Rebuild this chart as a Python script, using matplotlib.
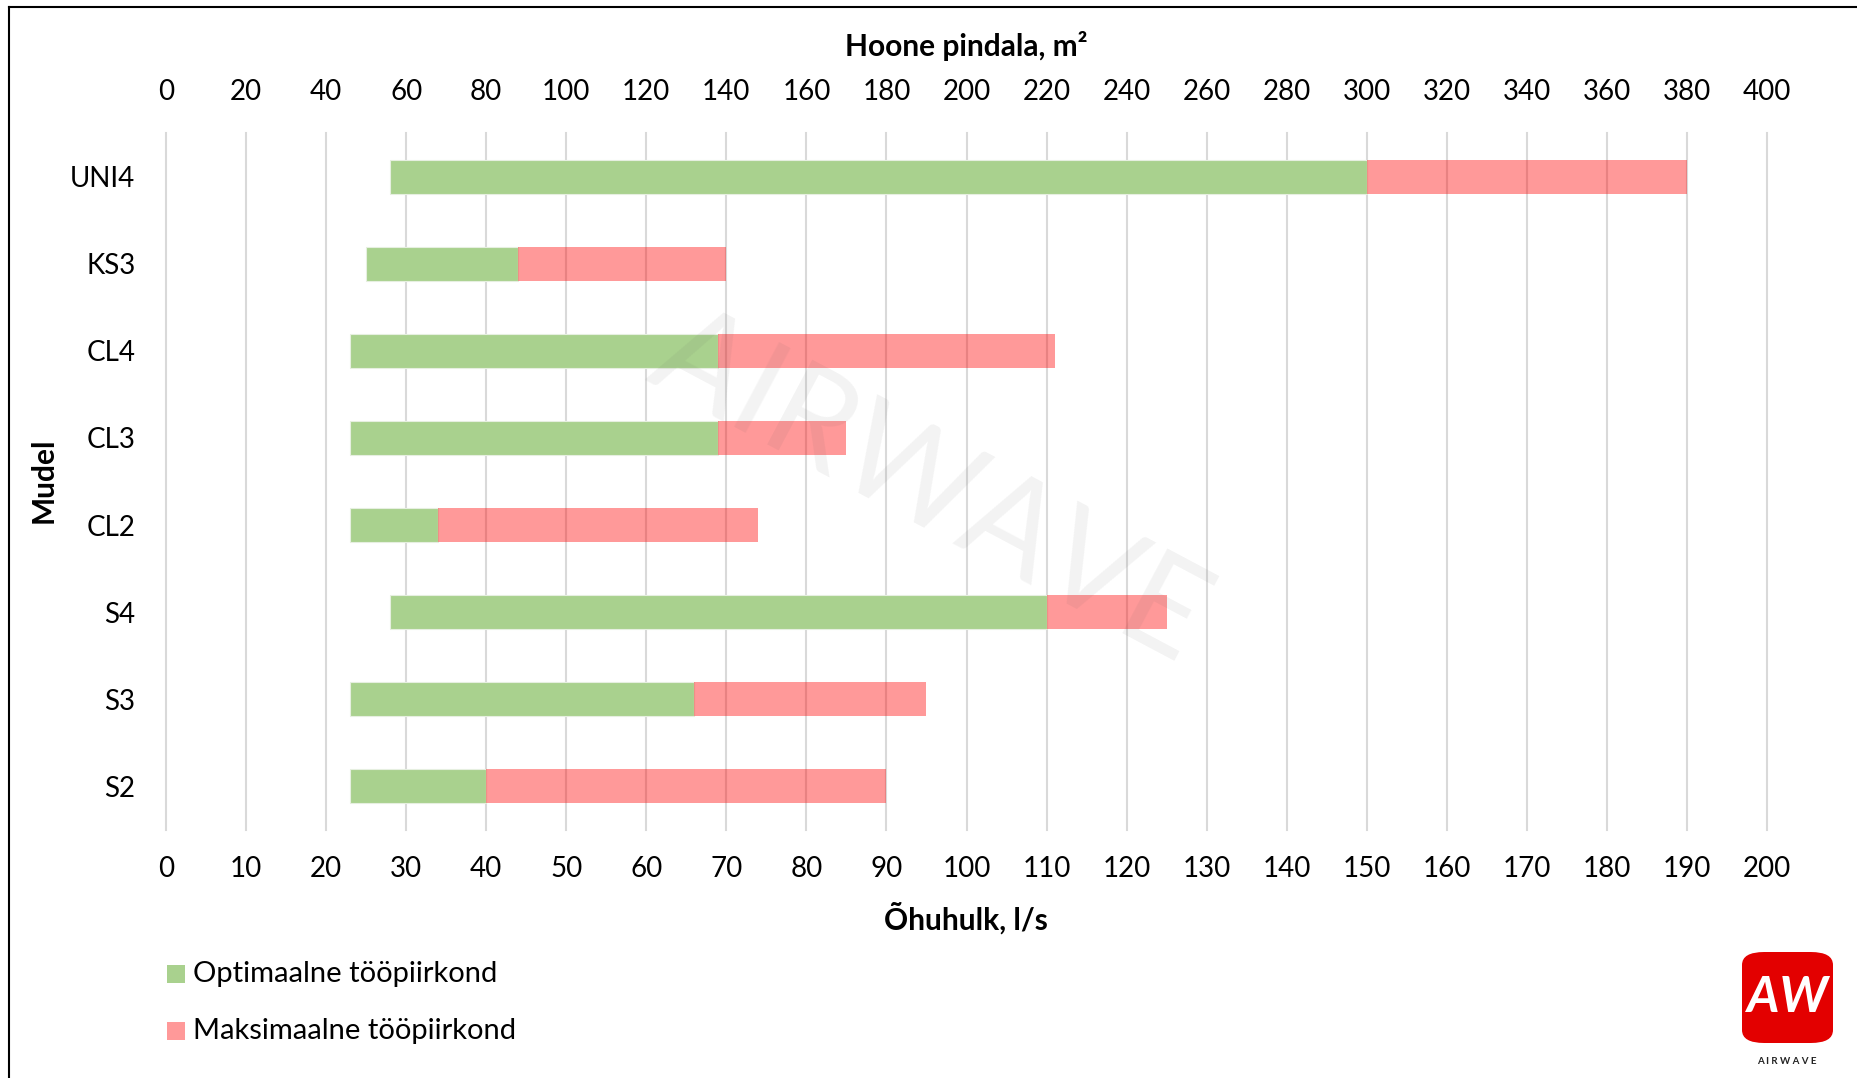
import matplotlib
matplotlib.use("Agg")
import matplotlib.pyplot as plt
from matplotlib.patches import FancyBboxPatch
from matplotlib.lines import Line2D
import numpy as np

plt.rcParams['font.family'] = ['Lato', 'DejaVu Sans']

models = ['UNI4', 'KS3', 'CL4', 'CL3', 'CL2', 'S4', 'S3', 'S2']
range_start = [28, 25, 23, 23, 23, 28, 23, 23]
optimal_end = [150, 44, 69, 69, 34, 110, 66, 40]
maximum_end = [190, 70, 111, 85, 74, 125, 95, 90]
series_names = ['Optimaalne tööpiirkond', 'Maksimaalne tööpiirkond']
bottom_ticks = list(range(0, 201, 10))
top_ticks = list(range(0, 401, 20))

W, H = 1858, 1078
fig = plt.figure(figsize=(W / 100, H / 100), dpi=100)
ax = fig.add_axes([166 / W, 1 - 830 / H, (1767 - 166) / W, (830 - 133) / H])

y = np.arange(len(models))
start = np.array(range_start)
opt = np.array(optimal_end)
mx = np.array(maximum_end)

green = '#A9D18E'
ax.barh(y, opt - start, left=start, height=0.39, color=green, zorder=3,
        edgecolor='#e6efe0', linewidth=0.8)
ax.barh(y, mx - opt, left=opt, height=0.39, color='#FF0000', alpha=0.4, zorder=3,
        linewidth=0)

ax.set_xlim(0, 200)
ax.set_ylim(len(models) - 0.5, -0.5)
ax.set_yticks(y)
ax.set_yticklabels(models)
ax.set_xticks(bottom_ticks)
ax.grid(axis='x', color='#d9d9d9', linewidth=1.5, zorder=1)
ax.grid(axis='y', visible=False)
for s in ax.spines.values():
    s.set_visible(False)
ax.tick_params(axis='both', length=0, labelsize=20, colors='black')
ax.tick_params(axis='x', pad=19)
ax.tick_params(axis='y', pad=22)
for gl in ax.get_xgridlines():
    gl.set_clip_on(False)

sec = ax.secondary_xaxis('top', functions=(lambda v: v * 2, lambda v: v / 2))
sec.set_xticks(top_ticks)
sec.tick_params(length=0, labelsize=20, pad=20)
for s in sec.spines.values():
    s.set_visible(False)

fig.text(966 / W, 1 - 46 / H, 'Hoone pindala, m²', ha='center', va='center',
         fontsize=21.5, fontweight='bold')
fig.text(966 / W, 1 - 918 / H, 'Õhuhulk, l/s', ha='center', va='center',
         fontsize=21.5, fontweight='bold')
fig.text(44 / W, 1 - 480 / H, 'Mudel', ha='center', va='center', rotation=90,
         fontsize=21.5, fontweight='bold')

# watermark
fig.text(929 / W, 1 - 488 / H, 'AIRWAVE', ha='center', va='center', rotation=-28,
         fontsize=96, color='#555555', alpha=0.07, fontweight='normal', zorder=10)

# legend (manual, figure coords)
leg_items = [(series_names[0], green, 1.0, 974), (series_names[1], '#FF0000', 0.4, 1031)]
for name, col, a, yc in leg_items:
    sq = FancyBboxPatch((167 / W, 1 - (yc + 9) / H), 18 / W, 18 / H,
                        boxstyle='square,pad=0', transform=fig.transFigure,
                        facecolor=col, alpha=a, edgecolor='none')
    fig.patches.append(sq)
    fig.text(193 / W, 1 - yc / H, name, ha='left', va='center', fontsize=21)

# logo
logo = FancyBboxPatch((1742 / W, 1 - 1043 / H), 91 / W, 91 / H,
                      boxstyle='round,pad=0,rounding_size=0.012',
                      transform=fig.transFigure, facecolor='#E30000', edgecolor='none')
fig.patches.append(logo)
fig.text(1787 / W, 1 - 997 / H, 'AW', ha='center', va='center', fontsize=36,
         fontweight='bold', fontstyle='italic', color='white')
fig.text(1787 / W, 1 - 1062 / H, 'A I R W A V E', ha='center', va='center',
         fontsize=7, fontweight='bold', color='#222222')

# border (left and top)
fig.lines.append(Line2D([9 / W, 9 / W], [0, 1 - 7 / H], transform=fig.transFigure,
                        color='black', linewidth=1.5))
fig.lines.append(Line2D([9 / W, 1], [1 - 7 / H, 1 - 7 / H], transform=fig.transFigure,
                        color='black', linewidth=1.5))

fig.savefig('out.png', dpi=100, facecolor='white')
